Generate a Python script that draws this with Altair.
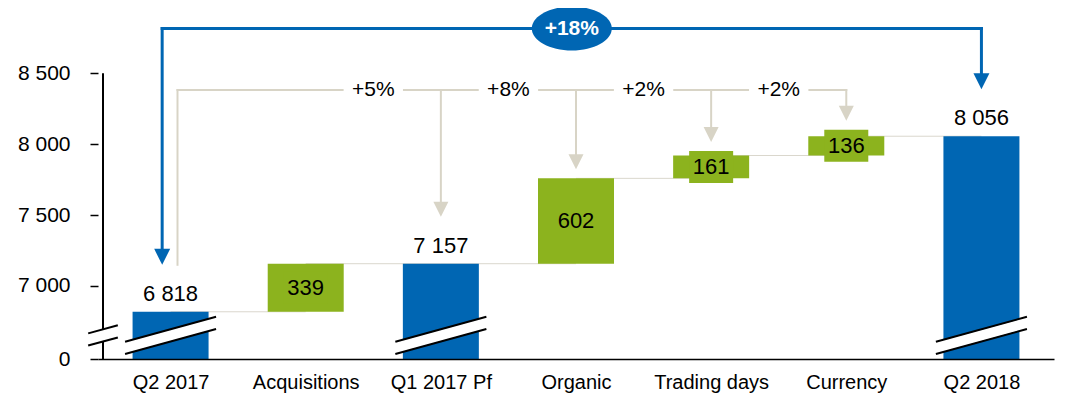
import altair as alt
import pandas as pd

# ---------------- data ----------------
categories = ["Q2 2017", "Acquisitions", "Q1 2017 Pf", "Organic", "Trading days", "Currency", "Q2 2018"]
values = [6818, 339, 7157, 602, 161, 136, 8056]
kinds = ["total", "delta", "total", "delta", "delta", "delta", "total"]
value_labels = ["6 818", "339", "7 157", "602", "161", "136", "8 056"]
step_labels = ["+5%", "+8%", "+2%", "+2%"]
step_targets = [2, 3, 4, 5]
overall_label = "+18%"
y_tick_values = [7000, 7500, 8000, 8500]
axis_zero_label = "0"

# ---------------- layout ----------------
PAD_L, PAD_T, PAD_R, PAD_B = 90, 4, 9, 38
W = 956
H = 347
Y_MIN = 6485                     # value drawn at the (broken) zero line
PX_PER_UNIT_Y = 0.1418
Y_MAX = Y_MIN + H / PX_PER_UNIT_Y
X_MIN, X_MAX = -0.5, len(categories) - 0.5
PX_PER_UNIT_X = W / (X_MAX - X_MIN)


def dx(px):
    return px / PX_PER_UNIT_X


def dy(px):
    return px / PX_PER_UNIT_Y


BLUE = "#0066B3"
GREEN = "#8CB31E"
GRAY = "#D8D4C6"
CONNECT = "#DAD7CD"
FONT = "Liberation Sans"

# ---------------- waterfall geometry ----------------
rows = []
level = 0
for i, (c, v, k, lab) in enumerate(zip(categories, values, kinds, value_labels)):
    if k == "total":
        y0, y1 = Y_MIN, v
        level = v
    else:
        y0, y1 = level, level + v
        level = level + v
    rows.append(dict(x=i, cat=c, y0=y0, y1=y1, kind=k, label=lab, mid=(y0 + y1) / 2))
bars = pd.DataFrame(rows)
totals = bars[bars.kind == "total"]
deltas = bars[bars.kind == "delta"].copy()
BOX_HALF = 16
deltas["b0"] = deltas["mid"] - dy(BOX_HALF)
deltas["b1"] = deltas["mid"] + dy(BOX_HALF)


def tip(i):
    r = rows[i]
    if r["kind"] == "total":
        return r["y1"] + dy(47)
    return max(r["y1"], r["mid"] + dy(BOX_HALF)) + dy(9)


connectors = pd.DataFrame(
    [dict(x=i, x2=i + 1, y=rows[i]["y1"]) for i in range(len(rows) - 1)]
)

# gray step brackets
GRAY_Y = Y_MIN + dy(269)
gray = []
start_x = dx(7)
gray.append(dict(x=start_x, y=tip(0), x2=start_x, y2=GRAY_Y))
prev = start_x
for t in step_targets:
    lx = t - 0.5
    gray.append(dict(x=prev, y=GRAY_Y, x2=lx - dx(31), y2=GRAY_Y))
    gray.append(dict(x=lx + dx(31), y=GRAY_Y, x2=t, y2=GRAY_Y))
    gray.append(dict(x=t, y=GRAY_Y, x2=t, y2=tip(t) + dy(13)))
    prev = t
gray = pd.DataFrame(gray)
gray_heads = pd.DataFrame([dict(x=t, y=tip(t) + dy(7.5)) for t in step_targets])
step_text = pd.DataFrame([dict(x=t - 0.5, y=GRAY_Y, label=l) for t, l in zip(step_targets, step_labels)])

# blue overall bracket
BLUE_Y = Y_MIN + dy(330.5)
bl = -dx(8.5)
br = len(categories) - 1
blue = pd.DataFrame([
    dict(x=bl, y=BLUE_Y, x2=br, y2=BLUE_Y),
    dict(x=bl, y=BLUE_Y, x2=bl, y2=tip(0) + dy(14)),
    dict(x=br, y=BLUE_Y, x2=br, y2=tip(br) + dy(14)),
])
blue_heads = pd.DataFrame([dict(x=bl, y=tip(0) + dy(8)), dict(x=br, y=tip(br) + dy(8))])
blue_badge = pd.DataFrame([dict(x=(bl + br) / 2, y=BLUE_Y, label=overall_label)])

# axis-break marks
BREAK_Y = Y_MIN + dy(23.6)
SLOPE = 0.272
GAP_HALF = 6.1
centers = [(r["x"], 46) for r in rows if r["kind"] == "total"] + [(X_MIN, 15)]
white_rows, black_rows = [], []
for cx, hl in centers:
    base = dict(x=cx - dx(hl), y=BREAK_Y - dy(hl * SLOPE), x2=cx + dx(hl), y2=BREAK_Y + dy(hl * SLOPE))
    white_rows.append(base)
    for s in (-1, 1):
        black_rows.append(dict(x=base["x"], y=base["y"] + s * dy(GAP_HALF),
                               x2=base["x2"], y2=base["y2"] + s * dy(GAP_HALF)))
breaks_white = pd.DataFrame(white_rows)
breaks_black = pd.DataFrame(black_rows)
y_domain = pd.DataFrame([dict(x=X_MIN, y=Y_MIN, y2=y_tick_values[-1])])

# ---------------- scales / axes ----------------
xs = alt.Scale(domain=[X_MIN, X_MAX], nice=False, zero=False)
ys = alt.Scale(domain=[Y_MIN, Y_MAX], nice=False, zero=False)
cat_js = "[" + ",".join("'" + c + "'" for c in categories) + "]"
x_axis = alt.Axis(values=list(range(len(categories))), labelExpr=cat_js + "[datum.value]",
                  ticks=False, grid=False, domain=True, domainColor="black", domainWidth=1.5,
                  labelPadding=13, labelFontSize=20, labelFont=FONT, labelColor="black",
                  labelOverlap=False, labelFlush=False, zindex=1)
y_axis = alt.Axis(values=[Y_MIN] + y_tick_values,
                  labelExpr=f"datum.value < {Y_MIN + 1} ? '{axis_zero_label}' : replace(format(datum.value, ','), ',', ' ')",
                  ticks=True, tickSize=8, tickColor="black", tickWidth=1.5, grid=False, domain=False,
                  labelPadding=20, labelFontSize=21, labelFont=FONT, labelColor="black",
                  labelOverlap=False, labelFlush=False, zindex=1)


def X(f):
    return alt.X(f, type="quantitative", scale=xs, axis=x_axis, title=None)


def Y(f):
    return alt.Y(f, type="quantitative", scale=ys, axis=y_axis, title=None)


def rules(df, color, width, cap="butt"):
    return alt.Chart(df).mark_rule(color=color, strokeWidth=width, strokeCap=cap).encode(
        x=X("x"), y=Y("y"), x2="x2", y2="y2")


TRI = "M-1,-1L1,-1L0,1Z"
ELL = ("M-1,0C-1,-0.3038,-0.5523,-0.55,0,-0.55C0.5523,-0.55,1,-0.3038,1,0"
       "C1,0.3038,0.5523,0.55,0,0.55C-0.5523,0.55,-1,0.3038,-1,0Z")

layers = [
    alt.Chart(connectors).mark_rule(color=CONNECT, strokeWidth=1).encode(x=X("x"), x2="x2", y=Y("y")),
    alt.Chart(y_domain).mark_rule(color="black", strokeWidth=2).encode(x=X("x"), y=Y("y"), y2="y2"),
    alt.Chart(bars).mark_bar(size=76).encode(
        x=X("x"), y=Y("y0"), y2="y1",
        color=alt.Color("kind:N", scale=alt.Scale(domain=["total", "delta"], range=[BLUE, GREEN]), legend=None)),
    alt.Chart(deltas).mark_bar(size=44, color=GREEN).encode(x=X("x"), y=Y("b0"), y2="b1"),
    rules(breaks_white, "white", 11),
    rules(breaks_black, "black", 2),
    alt.Chart(totals).mark_text(baseline="alphabetic", dy=-11, fontSize=22, font=FONT, color="black").encode(
        x=X("x"), y=Y("y1"), text="label"),
    alt.Chart(deltas).mark_text(baseline="middle", fontSize=22, font=FONT, color="black").encode(
        x=X("x"), y=Y("mid"), text="label"),
    rules(gray, GRAY, 2, "square"),
    alt.Chart(gray_heads).mark_point(shape=TRI, size=225, filled=True, color=GRAY, opacity=1, strokeWidth=0).encode(
        x=X("x"), y=Y("y")),
    alt.Chart(step_text).mark_text(baseline="middle", fontSize=21, font=FONT, color="black").encode(
        x=X("x"), y=Y("y"), text="label"),
    rules(blue, BLUE, 3, "square"),
    alt.Chart(blue_heads).mark_point(shape=TRI, size=256, filled=True, color=BLUE, opacity=1, strokeWidth=0).encode(
        x=X("x"), y=Y("y")),
    alt.Chart(blue_badge).mark_point(shape=ELL, size=6400, filled=True, color=BLUE, opacity=1, strokeWidth=0).encode(
        x=X("x"), y=Y("y")),
    alt.Chart(blue_badge).mark_text(baseline="middle", fontSize=21, fontWeight="bold", font=FONT, color="white").encode(
        x=X("x"), y=Y("y"), text="label"),
]

chart = alt.layer(*layers).properties(
    width=W, height=H,
    padding={"left": PAD_L, "top": PAD_T, "right": PAD_R, "bottom": PAD_B},
    autosize=alt.AutoSizeParams(type="none"),
).configure_view(stroke=None)

chart.save("out.html", embed_options={"renderer": "svg", "actions": False})
